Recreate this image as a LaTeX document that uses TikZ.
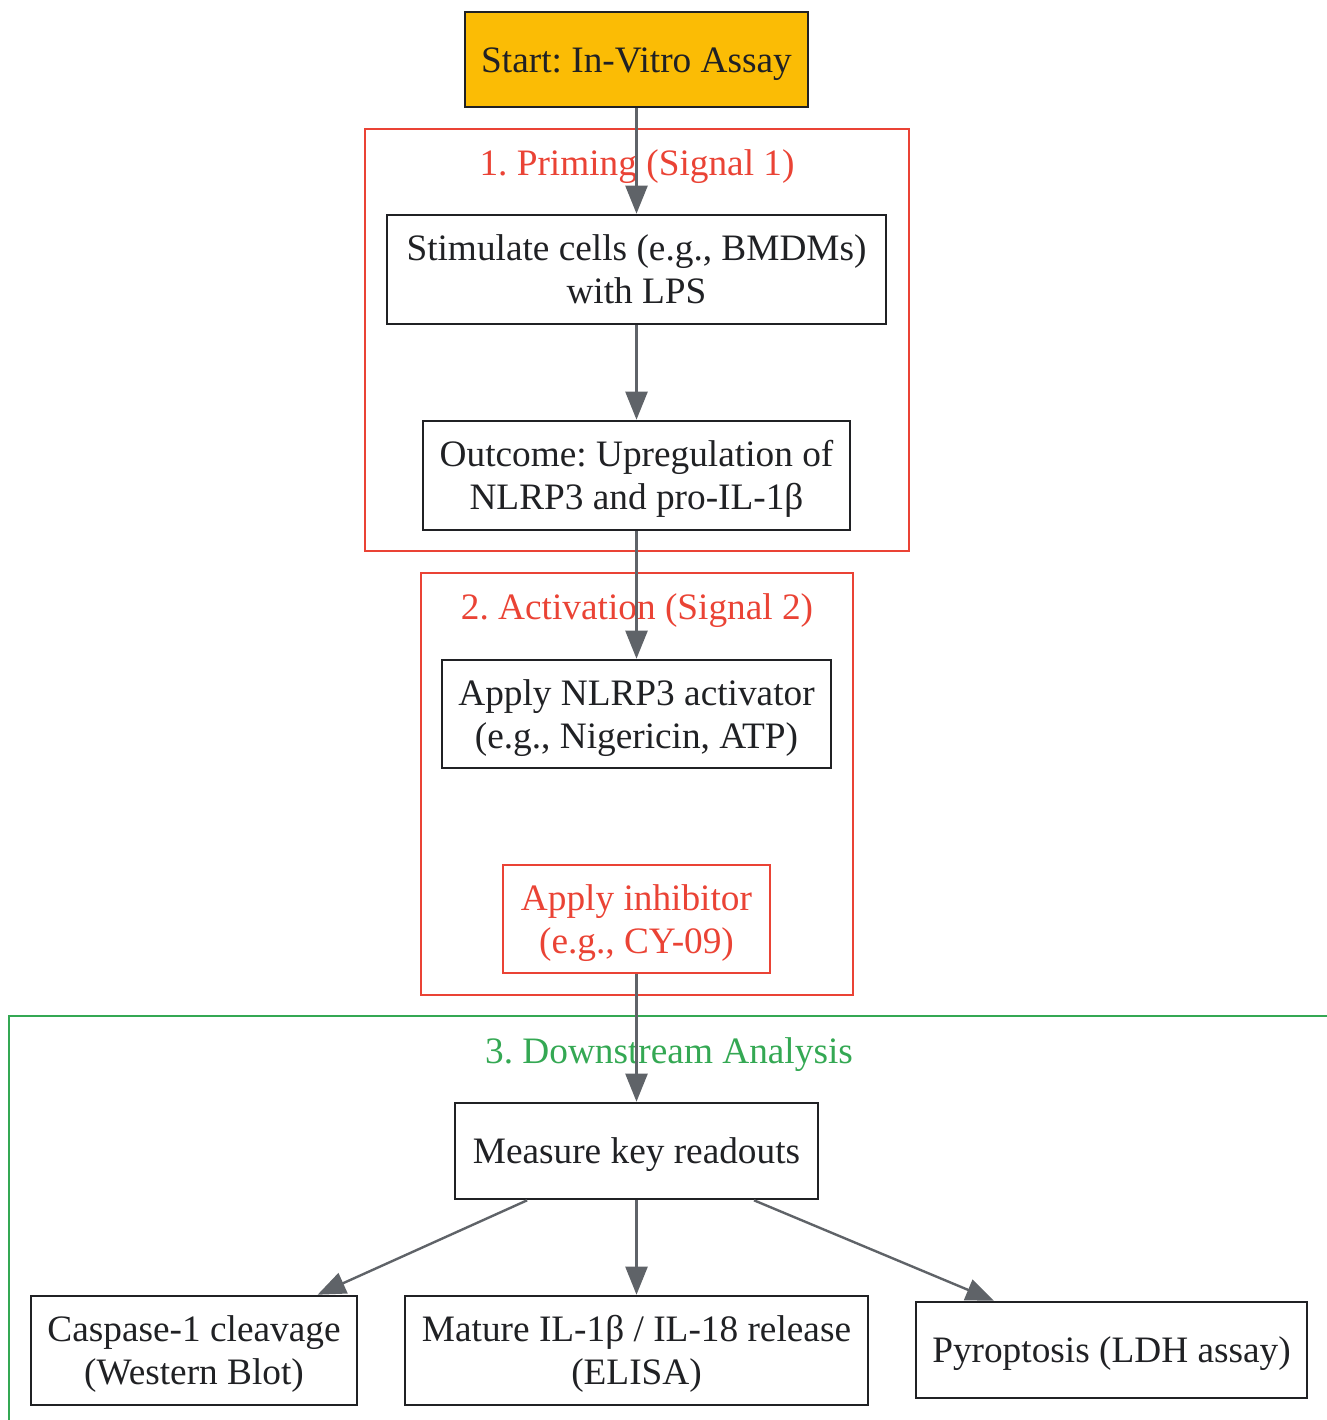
\documentclass[tikz,border=0pt]{standalone}
\usepackage{fontspec}
\setmainfont{Liberation Serif}
\usepackage{tikz}
\usetikzlibrary{arrows.meta}
\definecolor{cstart}{HTML}{FBBC05}
\definecolor{cred}{HTML}{EA4335}
\definecolor{cgreen}{HTML}{34A853}
\definecolor{cedge}{HTML}{5F6368}
\definecolor{cink}{HTML}{202124}
% one line of text, with the font's ascent and descent
\newcommand{\gvln}{\rule[-8.1pt]{0pt}{41.4pt}}
\frenchspacing

\tikzset{
	txt/.style={inner sep=0pt, align=center, font=\fontsize{37.3}{43}\selectfont},
	box/.style={txt, draw=cink, line width=2.6pt, text=cink},
	cluster/.style={line width=2.2pt},
	flow/.style={draw=cedge, line width=2.4pt, -{Triangle[length=28pt,width=22pt]}}
}

\begin{document}
\begin{tikzpicture}[x=1pt, y=-1pt]
	\useasboundingbox (0,0) rectangle (1326,1420);
	% clusters
	\draw[cluster, cred] (365,129) rectangle (909,551);
	\draw[cluster, cred] (421,573) rectangle (853,995);
	\draw[cluster, cgreen] (9,1016) rectangle (1360,1460);
	\node[txt, text=cred] (lprime) at (637,163) {\gvln 1. Priming (Signal 1)};
	\node[txt, text=cred] (lact) at (637,607) {\gvln 2. Activation (Signal 2)};
	\node[txt, text=cgreen] (ldown) at (669,1051) {\gvln 3. Downstream Analysis};

	% steps
	\node[box, fill=cstart, minimum width=343pt, minimum height=95pt] (start) at (636.5,59.5) {\gvln Start: In-Vitro Assay};
	\node[box, minimum width=499pt, minimum height=109pt] (stim) at (636.5,269.5) {\gvln Stimulate cells (e.g., BMDMs)\\\gvln with LPS};
	\node[box, minimum width=427pt, minimum height=109pt] (outcome) at (636.5,475.5) {\gvln Outcome: Upregulation of\\\gvln NLRP3 and pro-IL-1β};
	\node[box, minimum width=389pt, minimum height=108pt] (activ) at (636.5,714) {\gvln Apply NLRP3 activator\\\gvln (e.g., Nigericin, ATP)};
	\node[box, draw=cred, text=cred, minimum width=267pt, minimum height=108pt] (inhib) at (636.5,919) {\gvln Apply inhibitor\\\gvln (e.g., CY-09)};
	\node[box, minimum width=363pt, minimum height=96pt] (measure) at (636.5,1151) {\gvln Measure key readouts};
	\node[box, minimum width=326pt, minimum height=109pt] (casp) at (194,1350.5) {\gvln Caspase-1 cleavage\\\gvln (Western Blot)};
	\node[box, minimum width=463pt, minimum height=109pt] (mature) at (636.5,1350.5) {\gvln Mature IL-1β / IL-18 release\\\gvln (ELISA)};
	\node[box, minimum width=391pt, minimum height=96pt] (pyro) at (1111.5,1350) {\gvln Pyroptosis (LDH assay)};

	% arrows
	\draw[flow] (start) -- (stim);
	\draw[flow] (stim) -- (outcome);
	\draw[flow] (outcome) -- (activ);
	\draw[flow] (inhib) -- (measure);
	\draw[flow] (measure) -- (casp);
	\draw[flow] (measure) -- (mature);
	\draw[flow] (measure) -- (pyro);
\end{tikzpicture}
\end{document}
